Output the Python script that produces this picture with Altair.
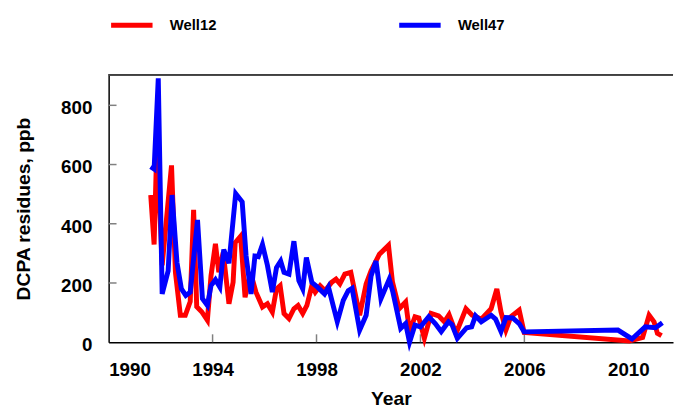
import altair as alt
import pandas as pd

series_names = ["Well12", "Well47"]
series_colors = ["#ff0000", "#0000ff"]

red_years = [1991.62, 1991.75, 1991.86, 1992.06, 1992.42, 1992.57, 1992.76, 1992.95, 1993.14, 1993.27,
             1993.39, 1993.58, 1993.80, 1993.94, 1994.11, 1994.24, 1994.41, 1994.63, 1994.79, 1994.87,
             1995.08, 1995.25, 1995.46, 1995.67, 1995.92, 1996.11, 1996.30, 1996.46, 1996.60, 1996.75,
             1996.94, 1997.13, 1997.29, 1997.47, 1997.63, 1997.82, 1997.95, 1998.14, 1998.33, 1998.58,
             1998.75, 1998.90, 1999.09, 1999.32, 1999.66, 1999.91, 2000.10, 2000.42, 2000.77, 2000.92,
             2001.18, 2001.43, 2001.58, 2001.79, 2001.94, 2002.15, 2002.41, 2002.70, 2002.92, 2003.10,
             2003.37, 2003.75, 2003.99, 2004.34, 2004.72, 2004.94, 2005.10, 2005.29, 2005.48, 2005.80,
             2005.99, 2010.04, 2010.55, 2010.80, 2010.99, 2011.12, 2011.28]
red_vals = [497, 330, 680, 260, 597, 236, 91, 91, 137, 447,
            120, 103, 74, 224, 332, 236, 303, 130, 203, 336,
            358, 152, 236, 169, 119, 130, 102, 180, 191, 97,
            80, 113, 124, 97, 124, 191, 169, 191, 174, 202,
            213, 197, 230, 236, 91, 197, 241, 297, 327, 205,
            113, 136, 36, 86, 82, 13, 97, 89, 69, 93,
            30, 113, 91, 78, 113, 180, 102, 41, 86, 108,
            33, 4, 16, 91, 69, 30, 22]

blue_years = [1991.62, 1991.75, 1991.91, 1992.06, 1992.29, 1992.44, 1992.63, 1992.80, 1992.97, 1993.14,
              1993.42, 1993.61, 1993.80, 1993.94, 1994.11, 1994.28, 1994.43, 1994.63, 1994.89, 1995.14,
              1995.29, 1995.48, 1995.63, 1995.76, 1995.92, 1996.11, 1996.30, 1996.46, 1996.62, 1996.75,
              1996.94, 1997.13, 1997.32, 1997.47, 1997.61, 1997.82, 1998.04, 1998.31, 1998.46, 1998.80,
              1999.03, 1999.22, 1999.37, 1999.66, 1999.91, 2000.10, 2000.29, 2000.48, 2000.80, 2000.94,
              2001.24, 2001.43, 2001.58, 2001.79, 2002.00, 2002.32, 2002.57, 2002.80, 2003.08, 2003.21,
              2003.42, 2003.78, 2003.97, 2004.12, 2004.34, 2004.72, 2004.89, 2005.10, 2005.29, 2005.55,
              2005.80, 2005.99, 2009.60, 2010.14, 2010.65, 2011.05, 2011.31]
blue_vals = [593, 585, 891, 163, 241, 497, 269, 180, 158, 169,
             413, 147, 124, 191, 211, 186, 313, 267, 502, 474,
             291, 163, 291, 289, 330, 260, 169, 252, 274, 236,
             230, 341, 208, 180, 286, 202, 186, 163, 186, 69,
             141, 174, 182, 41, 91, 224, 274, 147, 213, 169,
             47, 63, 0, 58, 52, 86, 63, 36, 69, 60,
             13, 49, 52, 89, 69, 91, 78, 36, 83, 82,
             63, 35, 41, 11, 52, 49, 66]

x_ticks = [1990, 1994, 1998, 2002, 2006, 2010]
y_ticks = [0, 200, 400, 600, 800]
x_domain = [1990, 2011.72]
y_domain = [0, 903]

W, H = 572, 271

df = pd.concat([
    pd.DataFrame({"year": red_years, "value": red_vals, "well": series_names[0]}),
    pd.DataFrame({"year": blue_years, "value": blue_vals, "well": series_names[1]}),
], ignore_index=True)

xs = alt.Scale(domain=x_domain, nice=False, zero=False)
ys = alt.Scale(domain=y_domain, nice=False, zero=False)

x_axis = alt.Axis(values=x_ticks, format="d", title="Year", ticks=False, tickSize=0,
                  labelPadding=19, titlePadding=10, grid=False,
                  domainColor="#000000", domainWidth=1.5)
y_axis = alt.Axis(values=y_ticks, title="DCPA residues, ppb", ticks=False, tickSize=0,
                  labelPadding=17, labelOffset=2.5, titlePadding=28, grid=False,
                  domainColor="#000000", domainWidth=1.5)

lines = alt.Chart(df).mark_line(strokeWidth=5).encode(
    x=alt.X("year:Q", scale=xs, axis=x_axis),
    y=alt.Y("value:Q", scale=ys, axis=y_axis),
    color=alt.Color("well:N", scale=alt.Scale(domain=series_names, range=series_colors),
                    legend=alt.Legend(
                        title=None, orient="none", legendX=0, legendY=-74,
                        direction="horizontal", symbolType="stroke", symbolSize=1764,
                        symbolStrokeWidth=5,
                        labelFont="Liberation Sans",
                        labelFontSize=15, labelFontWeight="bold", labelColor="#000000",
                        labelOffset=15, columnPadding=174, padding=0)),
)

ytick_df = pd.DataFrame({"value": y_ticks[1:]})
yticks = alt.Chart(ytick_df).mark_rule(color="#808080", strokeWidth=1.5).encode(
    y=alt.Y("value:Q", scale=ys, axis=y_axis),
    x=alt.value(0), x2=alt.value(8),
)

xtick_df = pd.DataFrame({"year": x_ticks[1:]})
xticks = alt.Chart(xtick_df).mark_rule(color="#808080", strokeWidth=1.5).encode(
    x=alt.X("year:Q", scale=xs, axis=x_axis),
    y=alt.value(H - 8), y2=alt.value(H),
)

topline = alt.Chart(ytick_df).mark_rule(color="#404040", strokeWidth=1.5).encode(
    y=alt.value(0), x=alt.value(0), x2=alt.value(W),
)

chart = alt.layer(xticks, yticks, lines, topline).properties(
    width=W, height=H,
    padding={"left": 5, "top": -9, "right": 0, "bottom": 0},
    background="#ffffff",
).configure_view(stroke=None).configure_axis(
    labelFont="Liberation Sans", labelFontSize=19, labelFontWeight="bold", labelColor="#000000",
    titleFont="Liberation Sans", titleFontSize=19.5, titleFontWeight="bold", titleColor="#000000",
)

chart.save("out.html", embed_options={"renderer": "svg", "actions": False})
